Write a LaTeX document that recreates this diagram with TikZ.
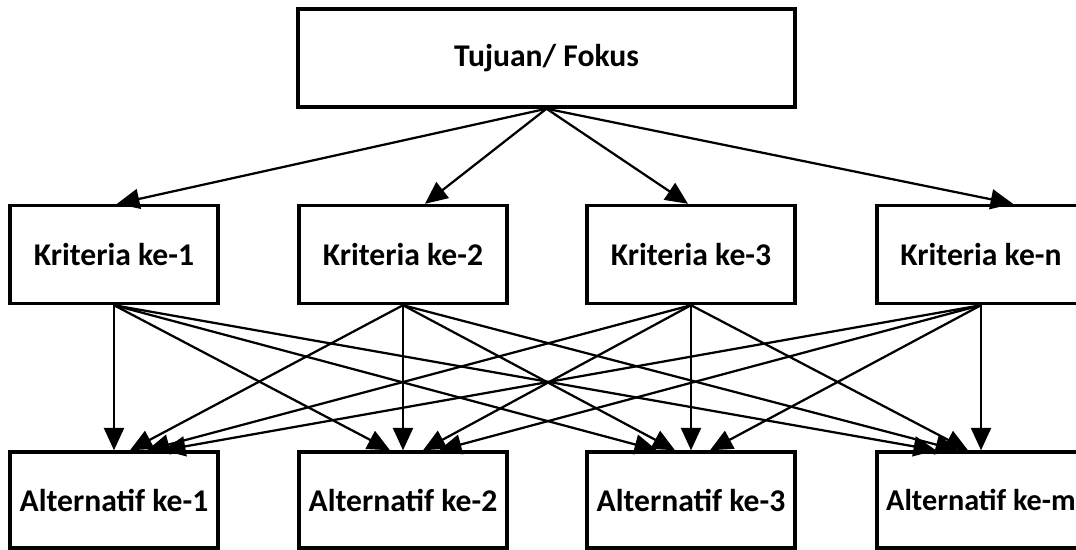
\documentclass[tikz,border=0pt]{standalone}
\usepackage{fontspec}
\setmainfont{Carlito}
\usetikzlibrary{arrows.meta}

\tikzset{
  kotak/.style={draw, line width=2.4pt, minimum width=5.2cm, minimum height=2.45cm,
    inner sep=0pt, font=\fontsize{22.5}{26}\selectfont\bfseries},
  panah/.style={line width=1.6pt, -{Triangle[length=0.56cm, width=0.5cm]}}
}

\begin{document}
\begin{tikzpicture}[x=0.025cm, y=-0.025cm]
\useasboundingbox (0,0) rectangle (1076,550);

\node[kotak, minimum width=12.425cm] (tujuan) at (546.5, 58) {Tujuan/ Fokus};

\node[kotak] (k1) at (114, 254.5) {Kriteria ke-1};
\node[kotak] (k2) at (403, 254.5) {Kriteria ke-2};
\node[kotak] (k3) at (691, 254.5) {Kriteria ke-3};
\node[kotak] (kn) at (981, 254.5) {Kriteria ke-n};

\node[kotak, minimum height=2.4cm] (a1) at (114, 500) {Alternatif ke-1};
\node[kotak, minimum height=2.4cm] (a2) at (403, 500) {Alternatif ke-2};
\node[kotak, minimum height=2.4cm] (a3) at (691, 500) {Alternatif ke-3};
\node[kotak, minimum height=2.4cm, font=\fontsize{21.5}{26}\selectfont\bfseries] (am) at (981, 500) {Alternatif ke-m\hspace{0.25cm}};

% tujuan ke kriteria
\draw[panah] (tujuan.south) -- ([xshift=0.075cm]k1.north);
\draw[panah] (tujuan.south) -- ([xshift=0.55cm]k2.north);
\draw[panah] (tujuan.south) -- ([xshift=-0.075cm]k3.north);
\draw[panah] (tujuan.south) -- ([xshift=0.8cm]kn.north);

% kriteria ke alternatif
\draw[panah] (k1.south) -- (a1.north);
\draw[panah] (k1.south) -- ([xshift=-0.325cm]a2.north);
\draw[panah] (k1.south) -- ([xshift=-0.85cm]a3.north);
\draw[panah] (k1.south) -- ([xshift=-1.125cm]am.north);

\draw[panah] (k2.south) -- ([xshift=0.4cm]a1.north);
\draw[panah] (k2.south) -- (a2.north);
\draw[panah] (k2.south) -- ([xshift=-0.4cm]a3.north);
\draw[panah] (k2.south) -- ([xshift=-0.575cm]am.north);

\draw[panah] (k3.south) -- ([xshift=0.825cm]a1.north);
\draw[panah] (k3.south) -- ([xshift=0.5cm]a2.north);
\draw[panah] (k3.south) -- (a3.north);
\draw[panah] (k3.south) -- ([xshift=-0.325cm]am.north);

\draw[panah] (kn.south) -- ([xshift=1.225cm]a1.north);
\draw[panah] (kn.south) -- ([xshift=0.9cm]a2.north);
\draw[panah] (kn.south) -- ([xshift=0.475cm]a3.north);
\draw[panah] (kn.south) -- (am.north);

\end{tikzpicture}
\end{document}
